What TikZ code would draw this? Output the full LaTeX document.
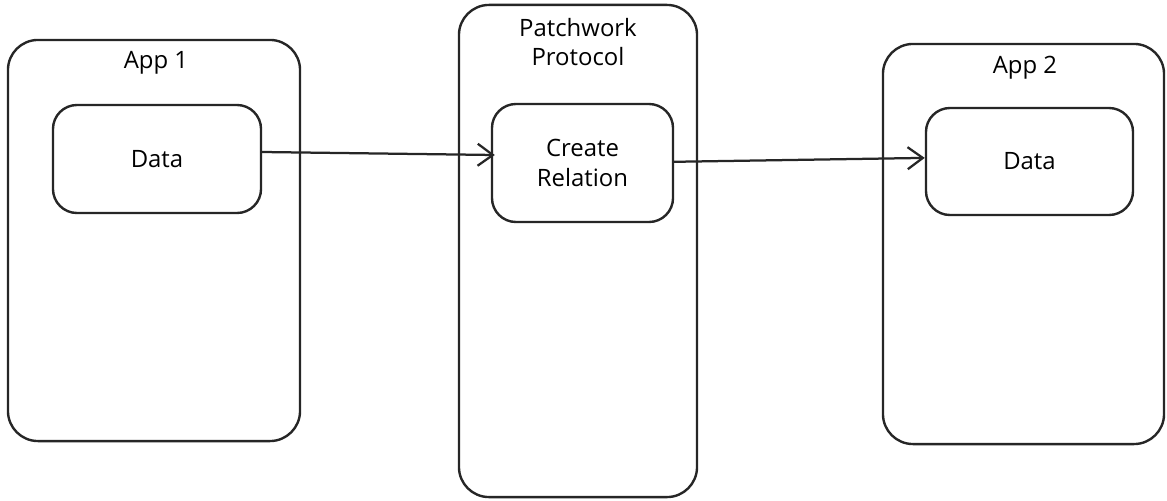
\documentclass[tikz,border=0pt]{standalone}
\usepackage{fontspec}
\setmainfont{Open Sans}
\usetikzlibrary{arrows.meta}
\tikzset{
  box/.style={draw=black!85, line width=1.7pt, rounded corners=0.75cm, fill=white, inner sep=0pt},
  inner/.style={draw=black!85, line width=1.7pt, rounded corners=0.6cm, fill=white, inner sep=0pt, align=center, font=\fontsize{17}{21}\selectfont},
  title/.style={align=center, font=\fontsize{17}{21}\selectfont, inner sep=0pt},
  conn/.style={draw=black!85, line width=1.6pt, -{Straight Barb[length=0.38cm, width=0.55cm, line width=1.6pt]}}
}
\begin{document}
\begin{tikzpicture}[x=0.025cm, y=-0.025cm]
\useasboundingbox (0,0) rectangle (1167,501);
\node[box, minimum width=7.3cm, minimum height=10.025cm] (app1) at (154,240.5) {};
\node[title] (app1t) at (156,63) {App 1};
\node[inner, minimum width=5.2cm, minimum height=2.7cm] (d1) at (157,159) {Data};

\node[box, minimum width=5.95cm, minimum height=12.3cm] (pp) at (578,251) {};
\node[title] (ppt) at (578,42) {Patchwork\\Protocol};
\node[inner, minimum width=4.525cm, minimum height=2.95cm] (cr) at (582.5,163) {Create\\Relation};

\node[box, minimum width=7.025cm, minimum height=10cm] (app2) at (1023.5,244) {};
\node[title] (app2t) at (1025,68) {App 2};
\node[inner, minimum width=5.175cm, minimum height=2.675cm] (d2) at (1029.5,161.5) {Data};

\draw[conn] ([yshift=0.175cm]d1.east) -- ([yshift=0.2cm,xshift=0.1cm]cr.west);
\draw[conn] ([yshift=0.03cm]cr.east) -- ([yshift=0.09cm]d2.west);
\end{tikzpicture}
\end{document}
